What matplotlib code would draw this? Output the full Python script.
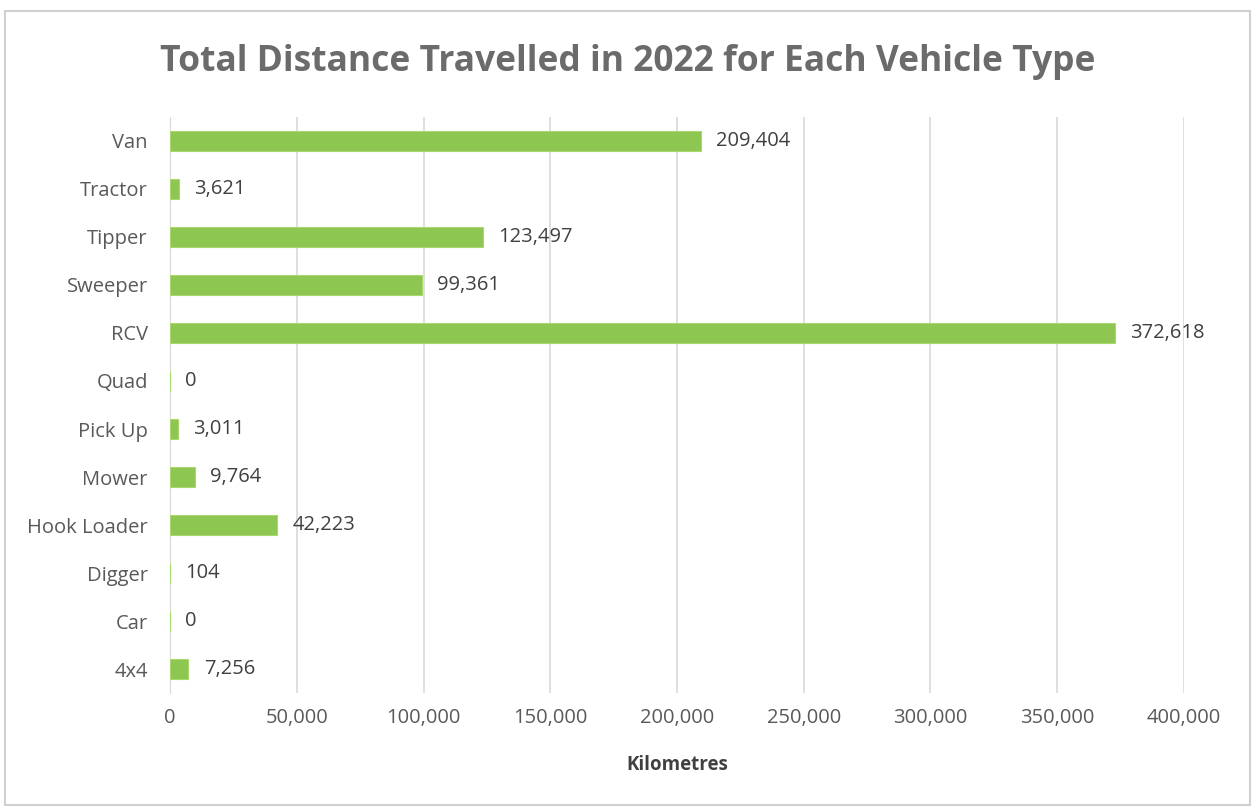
import matplotlib
matplotlib.use("Agg")
import matplotlib.pyplot as plt
from matplotlib.patches import Rectangle
from matplotlib.ticker import FuncFormatter

categories = ["4x4", "Car", "Digger", "Hook Loader", "Mower", "Pick Up", "Quad",
              "RCV", "Sweeper", "Tipper", "Tractor", "Van"]
values = [7256, 0, 104, 42223, 9764, 3011, 0, 372618, 99361, 123497, 3621, 209404]
xticks = [0, 50000, 100000, 150000, 200000, 250000, 300000, 350000, 400000]

plt.rcParams['font.family'] = ['Open Sans', 'DejaVu Sans']
txt = '#595959'

fig = plt.figure(figsize=(12.55, 8.1), dpi=100)
fig.patches.append(Rectangle((0.004, 0.006), 0.992, 0.981, transform=fig.transFigure,
                             fill=False, edgecolor='#d0d0d0', linewidth=1.5))
ax = fig.add_axes([0.1355, 0.1444, 0.8079, 0.7112])

y = range(len(categories))
ax.barh(y, values, height=0.4, color='#8dc650', edgecolor='#a9d86e', linewidth=0.8, zorder=3)
for yi, v in zip(y, values):
    ax.text(v + 6000, yi, f"{v:,}", va='center', ha='left', fontsize=14.5, color='#404040')

ax.set_xlim(0, 400000)
ax.set_ylim(-0.5, len(categories) - 0.5)
ax.set_xticks(xticks)
ax.xaxis.set_major_formatter(FuncFormatter(lambda v, p: f"{int(v):,}"))
ax.set_yticks(list(y))
ax.set_yticklabels(categories)
ax.tick_params(axis='both', length=0, labelsize=14.5, labelcolor=txt)
ax.tick_params(axis='x', pad=11)
ax.tick_params(axis='y', pad=16)
ax.grid(axis='x', color='#d9d9d9', linewidth=1.2, zorder=0)
for s in ['top', 'right', 'bottom']:
    ax.spines[s].set_visible(False)
ax.spines['left'].set_color('#d9d9d9')
ax.set_xlabel('Kilometres', fontsize=13.5, fontweight='bold', color='#404040', labelpad=19)

fig.text(0.5, 0.924, 'Total Distance Travelled in 2022 for Each Vehicle Type',
         ha='center', va='center', fontsize=25.5, fontweight='bold', color='#6b6b6b')

fig.savefig('out.png', dpi=100, facecolor='white')
